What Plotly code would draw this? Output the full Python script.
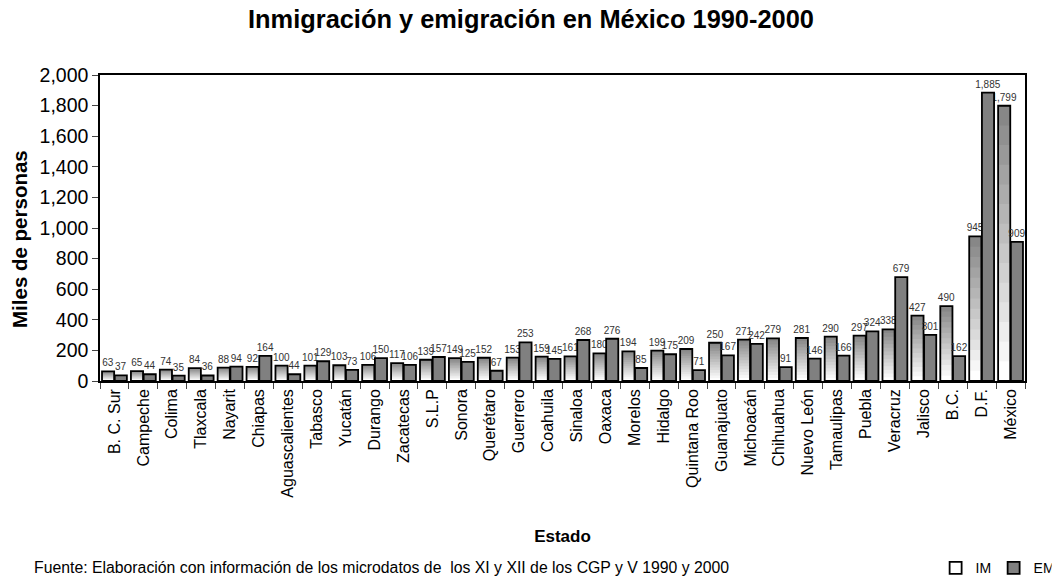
import plotly.graph_objects as go

estados = ["B. C. Sur", "Campeche", "Colima", "Tlaxcala", "Nayarit", "Chiapas", "Aguascalientes",
           "Tabasco", "Yucatán", "Durango", "Zacatecas", "S.L.P", "Sonora", "Querétaro", "Guerrero",
           "Coahuila", "Sinaloa", "Oaxaca", "Morelos", "Hidalgo", "Quintana Roo", "Guanajuato",
           "Michoacán", "Chihuahua", "Nuevo León", "Tamaulipas", "Puebla", "Veracruz", "Jalisco",
           "B.C.", "D.F.", "México"]
im = [63, 65, 74, 84, 88, 92, 100, 101, 103, 106, 117, 139, 149, 152, 153, 159, 161, 180, 194,
      199, 209, 250, 271, 279, 281, 290, 297, 338, 427, 490, 945, 1799]
em = [37, 44, 35, 36, 94, 164, 44, 129, 73, 150, 106, 157, 125, 67, 253, 145, 268, 276, 85,
      175, 71, 167, 242, 91, 146, 166, 324, 679, 301, 162, 1885, 909]

W = 0.42
IM_OFF = -0.43
EM_OFF = 0.01
N = 14
top = (135, 135, 135)
bot = (255, 255, 255)

fig = go.Figure()

# gradient fill for IM bars (top gray -> bottom white)
for k in range(N):
    f = 1 - k / N
    t = k / (N - 1)
    c = tuple(int(round(top[i] + (bot[i] - top[i]) * t)) for i in range(3))
    fig.add_trace(go.Bar(
        x=estados, y=[v * f for v in im], width=W, offset=IM_OFF,
        marker=dict(color="rgb(%d,%d,%d)" % c, line=dict(width=0)),
        showlegend=False, hoverinfo="skip"))

# IM outline + labels
fig.add_trace(go.Bar(
    x=estados, y=im, name="IM", width=W, offset=IM_OFF,
    marker=dict(color="rgba(255,255,255,0)", line=dict(color="black", width=1.8)),
    texttemplate="%{y:,}", textposition="outside", cliponaxis=False,
    constraintext="none", textfont=dict(size=10, color="#333333")))

# EM bars
fig.add_trace(go.Bar(
    x=estados, y=em, name="EM", width=W, offset=EM_OFF,
    marker=dict(color="#808080", line=dict(color="black", width=1.8)),
    texttemplate="%{y:,}", textposition="outside", cliponaxis=False,
    constraintext="none", textfont=dict(size=10, color="#333333")))

fig.update_layout(
    width=1062, height=587,
    barmode="overlay",
    plot_bgcolor="white", paper_bgcolor="white",
    font=dict(family="Liberation Sans, Arial, sans-serif", color="black"),
    margin=dict(l=100, r=37, t=75, b=206, autoexpand=False),
    title=dict(text="<b>Inmigración y emigración en México 1990-2000</b>",
               x=0.5, xanchor="center", y=0.968, yanchor="middle",
               font=dict(size=25.4, color="black")),
    xaxis=dict(title=dict(text="<b>Estado</b>", font=dict(size=17), standoff=33),
               tickangle=-90, tickfont=dict(size=16), ticks="outside", ticklen=6,
               tickson="boundaries", showline=True, linecolor="black", linewidth=1.5,
               mirror=True, range=[-0.5, len(estados) - 0.5], automargin=False),
    yaxis=dict(range=[0, 2000], dtick=200, tickformat=",", tickfont=dict(size=19.5),
               ticks="outside", ticklen=6, showline=True, linecolor="black", linewidth=1.5,
               mirror=True, showgrid=False, zeroline=False, automargin=False),
    legend=dict(orientation="h", xref="container", yref="container",
                x=0.881, xanchor="left", y=0.032, yanchor="middle",
                font=dict(size=14), bgcolor="rgba(0,0,0,0)", itemwidth=30,
                entrywidth=13, entrywidthmode="pixels"),
    annotations=[
        dict(text="<b>Miles de personas</b>", textangle=-90,
             xref="paper", yref="paper", x=-0.0876, y=0.464, xanchor="center", yanchor="middle",
             showarrow=False, font=dict(size=20.5, color="black")),
        dict(text="Fuente: Elaboración con información de los microdatos de  los XI y XII de los CGP y V 1990 y 2000",
             xref="paper", yref="paper", x=-0.073, y=-0.61, xanchor="left", yanchor="middle",
             showarrow=False, font=dict(size=15.8, color="black"))],
)

fig.write_html("out.html")
